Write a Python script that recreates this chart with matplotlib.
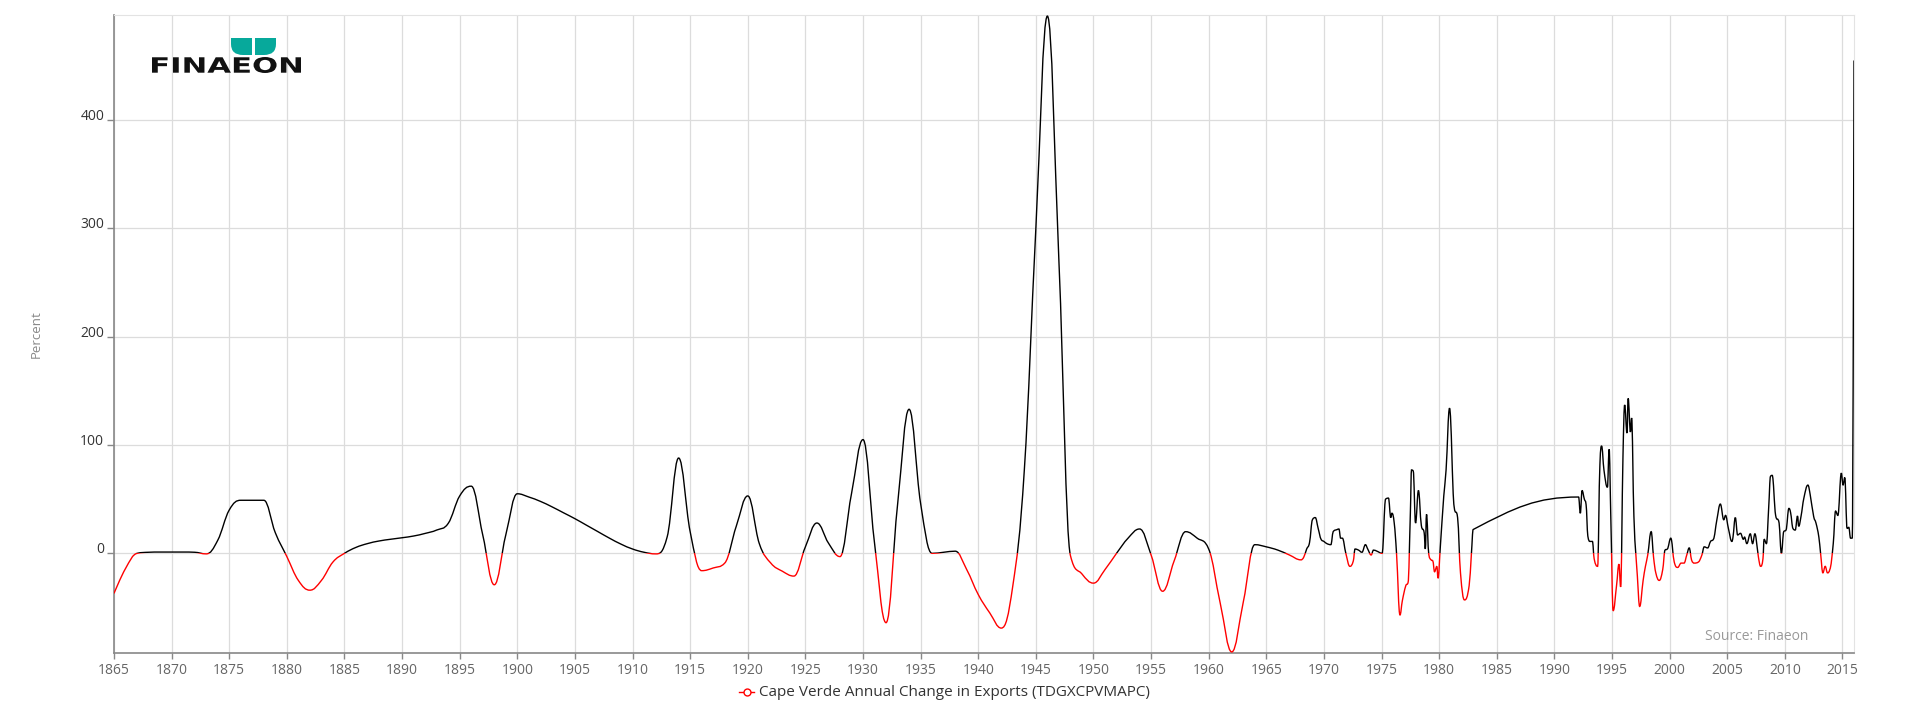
import matplotlib
matplotlib.use('Agg')
import matplotlib.pyplot as plt
from matplotlib.path import Path
from matplotlib.patches import PathPatch, Rectangle
from matplotlib.textpath import TextPath
from matplotlib.font_manager import FontProperties
from matplotlib.transforms import Affine2D
from matplotlib.lines import Line2D

plt.rcParams['font.family'] = ['Open Sans', 'DejaVu Sans']

# annual readings 1865-1968
years_early = list(range(1865, 1969))
pct_early = [-37, -14, 0, 1, 1.2, 1.2, 1.2, 1, -0.5, 12,
             40, 49, 49, 49, 19, -3, -25, -34, -25, -8,
             0, 5.5, 9, 11.4, 13, 14.4, 16, 18.4, 21.5, 27.6,
             53, 62, 17, -29, 17, 55, 52, 48, 43, 37.5,
             32, 26, 20, 14, 8.5, 4, 1, -0.5, 15, 88,
             20, -16, -13.5, -9, 25, 53, 9, -9, -16.5, -21,
             6, 28, 9.5, -3, 55, 105, 9.5, -64, 45, 133,
             46, 0, 1, 2, -15, -38, -55, -69, -30, 77,
             300, 496, 270, -2, -19, -27.5, -15, 0, 14, 22.5,
             -1.5, -35, -7, 20, 14, 4, -46, -91, -45, 8,
             6, 3, -1.5, -6]

# sub-annual readings from 1968 on
years_late = [1968.25, 1968.5, 1968.75, 1969.0, 1969.25, 1969.5, 1969.75, 1970.0, 1970.25, 1970.6,
              1970.8, 1971.15, 1971.3, 1971.45, 1971.6, 1971.9, 1972.25, 1972.55, 1972.7, 1973.0,
              1973.3, 1973.6, 1973.8, 1974.1, 1974.3, 1974.6, 1975.05, 1975.35, 1975.6, 1975.8,
              1975.9, 1976.1, 1976.3, 1976.6, 1976.8, 1977.1, 1977.3, 1977.5, 1977.6, 1977.75,
              1977.95, 1978.2, 1978.45, 1978.7, 1978.8, 1978.9, 1979.1, 1979.3, 1979.45, 1979.6,
              1979.8, 1979.9, 1980.1, 1980.4, 1980.6, 1980.9, 1981.3, 1981.6, 1981.85, 1982.2,
              1982.6, 1982.8, 1982.95,
              1992.1, 1992.25, 1992.4, 1992.6, 1992.75, 1992.9, 1993.1, 1993.3, 1993.45,
              1993.75, 1993.95, 1994.1, 1994.3, 1994.6, 1994.75, 1994.9, 1995.1, 1995.4, 1995.6,
              1995.75, 1995.95, 1996.1, 1996.3, 1996.4, 1996.6, 1996.7, 1996.9, 1997.2, 1997.4,
              1997.7, 1997.9, 1998.1, 1998.4, 1998.6, 1998.8, 1999.1, 1999.4, 1999.6, 1999.8,
              2000.1, 2000.4, 2000.7, 2001.0, 2001.25, 2001.5, 2001.7, 2001.9, 2002.15, 2002.5,
              2002.8, 2003.0, 2003.3, 2003.55, 2003.8, 2004.1, 2004.4, 2004.7, 2004.85, 2005.1,
              2005.4, 2005.5, 2005.7, 2005.9, 2006.15, 2006.4, 2006.5, 2006.7, 2007.0, 2007.2,
              2007.4, 2007.5, 2007.7, 2007.9, 2008.1, 2008.2, 2008.4, 2008.6, 2008.75, 2008.9,
              2009.2, 2009.5, 2009.7, 2009.9, 2010.1, 2010.35, 2010.5, 2010.7, 2010.9, 2011.1,
              2011.2, 2011.4, 2011.65, 2012.0, 2012.2, 2012.5, 2012.7, 2012.95, 2013.1, 2013.3,
              2013.5, 2013.7, 2013.9, 2014.2, 2014.4, 2014.6, 2014.9, 2015.05, 2015.2, 2015.4,
              2015.55, 2015.7, 2015.85, 2016.0]
pct_late = [-3.5, 4, 10, 31, 33, 23, 13, 11, 9, 8,
            20, 22, 22.5, 14, 14, 0, -12, -7, 4, 3,
            1, 8, 4, -1.5, 3, 2, 0, 50, 51, 33,
            37, 28, 0, -57, -44, -30, -27, 37, 77, 76,
            28, 58, 26, 19, 4, 36, -1, -6, -7, -17,
            -12, -23, 6, 53, 77, 134, 43, 33, -18, -43,
            -30, 0, 22,
            52, 37, 58, 50, 45, 16, 11, 11, -5,
            -12, 82, 99, 77, 61, 96, 31, -53, -29, -10,
            -31, 89, 137, 111, 143, 112, 125, 34, -21, -49,
            -25, -12, -1.5, 20, -3, -18, -25, -15, 3, 4,
            14, -8, -13, -9, -9, -1, 5, -6, -9, -8,
            -1.5, 6, 5, 11, 13, 31, 45.5, 31, 35, 23,
            11, 15, 33, 17, 18.5, 13, 15, 9, 18, 9,
            18, 14, -3, -12, -5, 13, 9, 43, 71, 72,
            35, 28, 0, 20, 21.5, 41.5, 37.5, 23, 21.5, 34.5,
            25, 34, 51, 63, 54, 34, 28, 15, 0, -18,
            -12, -18, -15, 9, 39, 35, 74, 63, 70, 23,
            24, 14, 14, 455]

x_ticks = list(range(1865, 2016, 5))
y_ticks = [0, 100, 200, 300, 400]
series_name = 'Cape Verde Annual Change in Exports (TDGXCPVMAPC)'

xs = years_early + years_late
ys = pct_early + pct_late
x_min, x_max = 1865, 2016
y_min, y_max = -92, 497


def spline_path(xs, ys):
    # cubic bezier through the points, same control-point rule as a highcharts spline
    n = len(xs)
    left = [(xs[i], ys[i]) for i in range(n)]
    right = [(xs[i], ys[i]) for i in range(n)]
    for i in range(1, n - 1):
        lx = (1.5 * xs[i] + xs[i - 1]) / 2.5
        ly = (1.5 * ys[i] + ys[i - 1]) / 2.5
        rx = (1.5 * xs[i] + xs[i + 1]) / 2.5
        ry = (1.5 * ys[i] + ys[i + 1]) / 2.5
        if rx != lx:
            corr = (ry - ly) * (rx - xs[i]) / (rx - lx) + ys[i] - ry
            ly += corr
            ry += corr
        if ly > ys[i - 1] and ly > ys[i]:
            ly = max(ys[i - 1], ys[i])
            ry = 2 * ys[i] - ly
        elif ly < ys[i - 1] and ly < ys[i]:
            ly = min(ys[i - 1], ys[i])
            ry = 2 * ys[i] - ly
        if ry > ys[i + 1] and ry > ys[i]:
            ry = max(ys[i + 1], ys[i])
            ly = 2 * ys[i] - ry
        elif ry < ys[i + 1] and ry < ys[i]:
            ry = min(ys[i + 1], ys[i])
            ly = 2 * ys[i] - ry
        left[i] = (lx, ly)
        right[i] = (rx, ry)
    verts = [(xs[0], ys[0])]
    codes = [Path.MOVETO]
    for i in range(1, n):
        verts += [right[i - 1], left[i], (xs[i], ys[i])]
        codes += [Path.CURVE4] * 3
    return Path(verts, codes)


fig = plt.figure(figsize=(19.2, 7.2), dpi=100)
ax = fig.add_axes([114 / 1920, 1 - 653 / 720, 1740 / 1920, 638 / 720])
ax.set_xlim(x_min, x_max)
ax.set_ylim(y_min, y_max)

path = spline_path(xs, ys)
pos = PathPatch(path, fill=False, edgecolor='#000000', lw=1.0, zorder=3)
neg = PathPatch(path, fill=False, edgecolor='#ff0000', lw=1.0, zorder=3)
ax.add_patch(pos)
ax.add_patch(neg)
pos.set_clip_path(Rectangle((x_min, 0), x_max - x_min, y_max, transform=ax.transData))
neg.set_clip_path(Rectangle((x_min, y_min), x_max - x_min, -y_min, transform=ax.transData))

# axes styling
ax.set_xticks(x_ticks)
ax.set_yticks(y_ticks)
ax.grid(True, color='#dcdcdc', lw=0.9)
ax.set_axisbelow(True)
for side in ['top', 'right']:
    ax.spines[side].set_color('#e3e3e3')
for side in ['left', 'bottom']:
    ax.spines[side].set_color('#888888')
    ax.spines[side].set_linewidth(1.2)
ax.tick_params(axis='x', length=4, width=1, color='#888888', pad=3,
               labelsize=10, labelcolor='#666666')
ax.tick_params(axis='y', length=5, width=1, color='#888888', pad=2,
               labelsize=10, labelcolor='#333333')
for lab in ax.get_yticklabels():
    lab.set_verticalalignment('baseline')

fig.text(36 / 1920, 1 - 334 / 720, 'Percent', rotation=90, ha='center', va='center',
         fontsize=9.5, color='#888888')
fig.text(1808 / 1920, 1 - 636 / 720, 'Source: Finaeon', ha='right', va='center',
         fontsize=10, color='#999999')

# legend
fig.add_artist(Line2D([739 / 1920, 754 / 1920], [1 - 692 / 720] * 2, transform=fig.transFigure,
                      color='#ff0000', lw=1.0))
fig.add_artist(Line2D([746.5 / 1920], [1 - 692 / 720], transform=fig.transFigure, marker='o',
                      markersize=5, markerfacecolor='white', markeredgecolor='#ff0000', mew=1.0))
fig.text(759 / 1920, 1 - 692 / 720, series_name, ha='left', va='center',
         fontsize=11, color='#333333')

# logo
lax = fig.add_axes([150 / 1920, 1 - 76 / 720, 156 / 1920, 40 / 720])
lax.set_xlim(150, 306)
lax.set_ylim(76, 36)
lax.axis('off')
tp = TextPath((0, 0), 'FINAEON', size=1, prop=FontProperties(family='DejaVu Sans', weight='bold'))
ext = tp.get_extents()
tr = Affine2D().translate(-ext.x0, -ext.y0).scale(149 / ext.width, -16 / ext.height).translate(152, 73)
lax.add_patch(PathPatch(tr.transform_path(tp), facecolor='#111111', edgecolor='none'))
teal = '#07a99b'
leaf_l = Path([(231, 38), (252, 38), (252, 55), (243, 55), (231, 55), (231, 44), (231, 38)],
              [Path.MOVETO, Path.LINETO, Path.LINETO, Path.LINETO, Path.CURVE3, Path.CURVE3, Path.CLOSEPOLY])
leaf_r = Path([(276, 38), (255, 38), (255, 55), (264, 55), (276, 55), (276, 44), (276, 38)],
              [Path.MOVETO, Path.LINETO, Path.LINETO, Path.LINETO, Path.CURVE3, Path.CURVE3, Path.CLOSEPOLY])
lax.add_patch(PathPatch(leaf_l, facecolor=teal, edgecolor='none'))
lax.add_patch(PathPatch(leaf_r, facecolor=teal, edgecolor='none'))

fig.savefig('out.png', dpi=100, facecolor='white')
